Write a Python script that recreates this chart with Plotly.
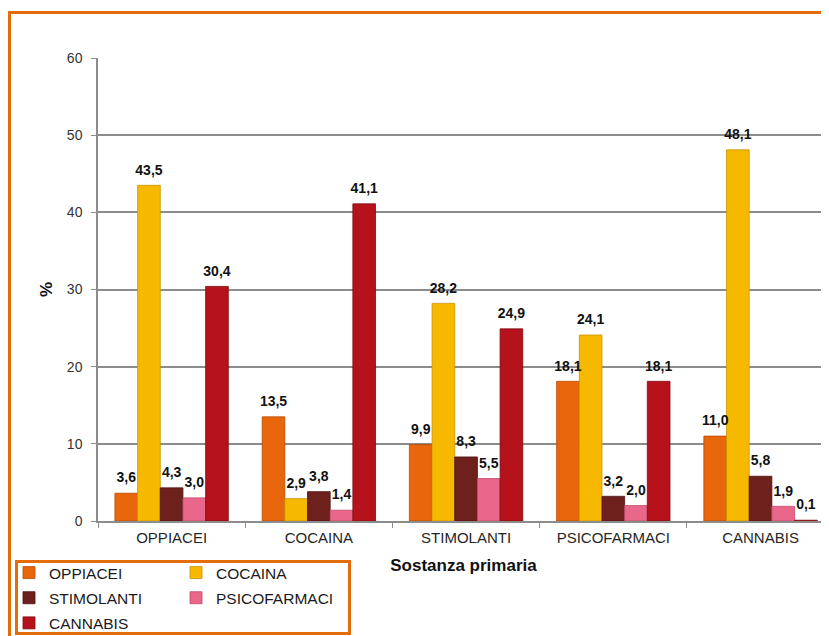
import plotly.graph_objects as go

categories = ["OPPIACEI", "COCAINA", "STIMOLANTI", "PSICOFARMACI", "CANNABIS"]
series_names = ["OPPIACEI", "COCAINA", "STIMOLANTI", "PSICOFARMACI", "CANNABIS"]
oppiacei = [3.6, 13.5, 9.9, 18.1, 11.0]
cocaina = [43.5, 2.9, 28.2, 24.1, 48.1]
stimolanti = [4.3, 3.8, 8.3, 3.2, 5.8]
psicofarmaci = [3.0, 1.4, 5.5, 2.0, 1.9]
cannabis = [30.4, 41.1, 24.9, 18.1, 0.1]
y_ticks = [0, 10, 20, 30, 40, 50, 60]

series_values = [oppiacei, cocaina, stimolanti, psicofarmaci, cannabis]
colors = ["#E8660C", "#F7B900", "#6E201D", "#E8678A", "#B5121B"]
lines = ["#B84A05", "#C99300", "#4A1210", "#C04A66", "#800A10"]
legend_ids = ["legend", "legend2", "legend", "legend2", "legend"]

# page has an 8px body margin; figure sized to fit the window exactly
OFF = 8
W, H = 829 - OFF, 636 - OFF
L, R, T, B = 90, 0, 50, 115
pw, ph = W - L - R, H - T - B
GAP = 0.23


def px_x(x_ref):
    return (x_ref - OFF - L) / pw


def px_y(y_ref):
    return 1 - (y_ref - OFF - T) / ph


FONT = "Liberation Sans, Arial, sans-serif"

fig = go.Figure()
for i, (name, vals) in enumerate(zip(series_names, series_values)):
    fig.add_trace(go.Bar(
        name=name,
        x=categories,
        y=vals,
        offsetgroup=str(i),
        marker=dict(color=colors[i], line=dict(color=lines[i], width=0.8)),
        legend=legend_ids[i],
        legendgroup=name,
    ))
for i, (name, vals) in enumerate(zip(series_names, series_values)):
    fig.add_trace(go.Scatter(
        x=categories,
        y=vals,
        offsetgroup=str(i),
        mode="markers+text",
        marker=dict(size=10, color="rgba(0,0,0,0)"),
        text=[f"{v:.1f}".replace(".", ",") for v in vals],
        textposition="top center",
        cliponaxis=False,
        textfont=dict(family=FONT, size=14, color="#111111", weight="bold"),
        showlegend=False,
        hoverinfo="skip",
    ))

fig.update_layout(
    width=W, height=H,
    margin=dict(l=L, r=R, t=T, b=B, autoexpand=False),
    paper_bgcolor="white",
    plot_bgcolor="white",
    barmode="group",
    bargap=GAP,
    bargroupgap=0,
    scattermode="group",
    scattergap=GAP,
    font=dict(family=FONT, color="#333333"),
    xaxis=dict(
        range=[-0.5, 4.465],
        showline=True, linecolor="#8c8c8c", linewidth=1.5,
        ticks="outside", tickson="boundaries", ticklen=5, tickcolor="#8c8c8c",
        tickfont=dict(family=FONT, size=15, color="#262626"),
        ticklabelstandoff=2,
        automargin=False,
        title=dict(text="Sostanza primaria", standoff=14,
                   font=dict(family=FONT, size=17, color="#111111", weight="bold")),
    ),
    yaxis=dict(
        range=[0, 60],
        tickvals=y_ticks,
        showgrid=True, gridcolor="#8c8c8c", gridwidth=1.5,
        zeroline=False,
        showline=True, linecolor="#8c8c8c", linewidth=1.5,
        ticks="outside", ticklen=5, tickcolor="#8c8c8c",
        tickfont=dict(family=FONT, size=14, color="#333333"),
        ticklabelstandoff=6,
        automargin=False,
        title=dict(text="%", standoff=10,
                   font=dict(family=FONT, size=17, color="#111111", weight="bold")),
    ),
    legend=dict(
        x=px_x(9), y=px_y(556), xanchor="left", yanchor="top",
        orientation="v", traceorder="grouped", tracegroupgap=2,
        font=dict(family=FONT, size=15.5, color="#1a1a1a"),
        bgcolor="rgba(0,0,0,0)", itemwidth=30,
    ),
    legend2=dict(
        x=px_x(176), y=px_y(556), xanchor="left", yanchor="top",
        orientation="v", traceorder="grouped", tracegroupgap=2,
        font=dict(family=FONT, size=15.5, color="#1a1a1a"),
        bgcolor="rgba(0,0,0,0)", itemwidth=30,
    ),
    showlegend=True,
)

# Outer orange frame (extends beyond right/bottom edges)
fig.add_shape(type="rect", xref="paper", yref="paper",
              x0=px_x(9.5), x1=px_x(845), y0=px_y(12.5), y1=px_y(660),
              line=dict(color="#E46C0A", width=3), layer="below")
# Legend box
fig.add_shape(type="rect", xref="paper", yref="paper",
              x0=px_x(16.5), x1=px_x(349.5), y0=px_y(561.5), y1=px_y(633.5),
              line=dict(color="#E46C0A", width=3), layer="above")

fig.write_html("out.html")
